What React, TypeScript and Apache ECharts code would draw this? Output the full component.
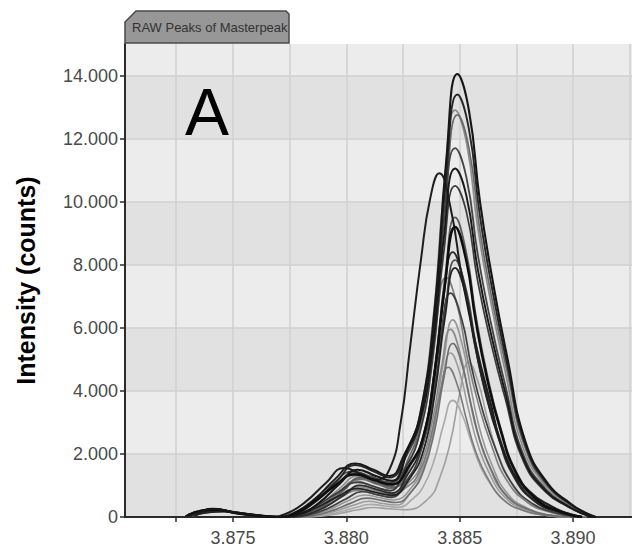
import React, { useEffect, useRef } from "react";
import * as echarts from "echarts";

// ---- axis values ----
const xMin = 3.87024;
const xMax = 3.8926;
const yMax = 15000;
const xGridValues = [3.8725, 3.875, 3.8775, 3.88, 3.8825, 3.885, 3.8875, 3.89, 3.8925];
const xTickValues = [3.8725, 3.875, 3.88, 3.885, 3.89];
const xLabelValues = [3.875, 3.88, 3.885, 3.89];
const yTickValues = [0, 2000, 4000, 6000, 8000, 10000, 12000, 14000];

const chartTitle = "RAW Peaks of Masterpeak";
const panelLetter = "A";
const yAxisName = "Intensity (counts)";

// ---- traces: [m/z, intensity] ----
const trace01 = [[3.8730,30],[3.8736,180],[3.8742,250],[3.8750,150],[3.8758,80],[3.8766,20],[3.8772,0],[3.8780,120],[3.8788,450],[3.8797,1050],[3.8805,1500],[3.8813,1300],[3.8820,1150],[3.8827,2110],[3.8833,3410],[3.8839,6620],[3.8844,11240],[3.8849,14050],[3.8854,12930],[3.8859,9980],[3.8865,7310],[3.8871,5060],[3.8879,2390],[3.8889,1050],[3.8899,420],[3.8905,150],[3.8910,0]];
const trace02 = [[3.8731,50],[3.8737,200],[3.8743,230],[3.8751,140],[3.8759,60],[3.8767,10],[3.8773,0],[3.8779,150],[3.8787,520],[3.8796,1150],[3.8804,1650],[3.8812,1450],[3.8819,1250],[3.8827,2180],[3.8833,3340],[3.8839,6360],[3.8844,10720],[3.8849,13400],[3.8854,12330],[3.8859,9510],[3.8865,6970],[3.8871,4820],[3.8879,2280],[3.8889,1000],[3.8899,400],[3.8905,140],[3.8910,0]];
const trace03 = [[3.8774,0],[3.8781,100],[3.8789,420],[3.8797,900],[3.8805,1300],[3.8813,1120],[3.8819,980],[3.8826,1880],[3.8832,3100],[3.8838,6070],[3.8843,10320],[3.8848,12900],[3.8853,11870],[3.8858,9160],[3.8864,6710],[3.8870,4640],[3.8878,2190],[3.8888,970],[3.8898,390],[3.8904,130],[3.8909,0]];
const trace04 = [[3.8775,0],[3.8782,90],[3.8790,400],[3.8798,850],[3.8806,1200],[3.8814,1030],[3.8820,900],[3.8827,1790],[3.8833,3030],[3.8839,5980],[3.8844,10200],[3.8849,12750],[3.8854,11730],[3.8859,9050],[3.8865,6630],[3.8871,4590],[3.8879,2170],[3.8889,960],[3.8899,380],[3.8905,130],[3.8910,0]];
const trace05 = [[3.8732,40],[3.8738,160],[3.8745,200],[3.8753,110],[3.8761,50],[3.8768,0],[3.8778,110],[3.8786,460],[3.8795,980],[3.8804,1400],[3.8812,1220],[3.8819,1060],[3.8826,1870],[3.8832,2900],[3.8838,5550],[3.8843,9360],[3.8848,11700],[3.8853,10760],[3.8858,8310],[3.8864,6080],[3.8870,4210],[3.8878,1990],[3.8888,880],[3.8898,350],[3.8904,120],[3.8909,0]];
const trace06 = [[3.8729,30],[3.8735,170],[3.8741,260],[3.8749,180],[3.8757,90],[3.8765,25],[3.8771,0],[3.8778,160],[3.8786,560],[3.8795,1200],[3.8804,1700],[3.8812,1500],[3.8819,1300],[3.8826,2050],[3.8832,2890],[3.8838,5310],[3.8843,8840],[3.8848,11050],[3.8853,10170],[3.8858,7850],[3.8864,5750],[3.8870,3980],[3.8878,1880],[3.8888,830],[3.8898,330],[3.8904,110],[3.8909,0]];
const trace07 = [[3.8730,60],[3.8736,210],[3.8742,240],[3.8750,140],[3.8758,60],[3.8766,0],[3.8774,120],[3.8782,480],[3.8791,1080],[3.8799,1550],[3.8807,1350],[3.8813,1180],[3.8819,1500],[3.8824,3000],[3.8828,5300],[3.8833,8200],[3.8837,10100],[3.8841,10900],[3.8846,9800],[3.8851,7600],[3.8857,5500],[3.8863,3800],[3.8871,1800],[3.8881,800],[3.8891,320],[3.8898,110],[3.8904,0]];
const trace08 = [[3.8731,40],[3.8737,140],[3.8744,190],[3.8752,100],[3.8760,40],[3.8767,0],[3.8779,80],[3.8787,360],[3.8796,770],[3.8805,1100],[3.8813,950],[3.8819,830],[3.8826,1560],[3.8832,2540],[3.8838,4950],[3.8843,8400],[3.8848,10500],[3.8853,9660],[3.8858,7460],[3.8864,5460],[3.8870,3780],[3.8878,1790],[3.8888,790],[3.8898,320],[3.8904,110],[3.8909,0]];
const trace09 = [[3.8776,0],[3.8783,100],[3.8791,400],[3.8799,850],[3.8806,1250],[3.8814,1070],[3.8821,950],[3.8828,1600],[3.8834,2590],[3.8839,4720],[3.88435,7600],[3.8848,9500],[3.8853,8360],[3.8857,6460],[3.8862,4560],[3.8868,2850],[3.8875,1430],[3.8884,570],[3.8894,190],[3.8904,0]];
const trace10 = [[3.8730,50],[3.8736,190],[3.8742,230],[3.8750,150],[3.8758,70],[3.8766,15],[3.8771,0],[3.8778,130],[3.8786,500],[3.8795,1000],[3.8804,1350],[3.8812,1180],[3.8820,1030],[3.8828,1660],[3.8834,2560],[3.8839,4590],[3.88435,7360],[3.8848,9200],[3.8853,8100],[3.8857,6260],[3.8862,4420],[3.8868,2760],[3.8875,1380],[3.8884,550],[3.8894,180],[3.8904,0]];
const trace11 = [[3.8776,0],[3.8783,80],[3.8791,330],[3.8799,700],[3.8806,1000],[3.8814,860],[3.8820,760],[3.8827,1340],[3.8833,2250],[3.8838,4150],[3.88425,6720],[3.8847,8400],[3.8852,7390],[3.8856,5710],[3.8861,4030],[3.8867,2520],[3.8874,1260],[3.8883,500],[3.8893,170],[3.8903,0]];
const trace12 = [[3.8732,30],[3.8738,130],[3.8745,180],[3.8753,100],[3.8761,40],[3.8768,0],[3.8777,140],[3.8785,520],[3.8794,1050],[3.8803,1450],[3.8811,1280],[3.8819,1100],[3.8828,1660],[3.8834,2370],[3.8839,4120],[3.88435,6520],[3.8848,8150],[3.8853,7170],[3.8857,5540],[3.8862,3910],[3.8868,2450],[3.8875,1220],[3.8884,490],[3.8894,160],[3.8904,0]];
const trace13 = [[3.8733,40],[3.8739,150],[3.8746,170],[3.8754,90],[3.8762,30],[3.8769,0],[3.8779,70],[3.8787,300],[3.8796,640],[3.8805,900],[3.8813,780],[3.8820,690],[3.8828,1230],[3.8834,2100],[3.8839,3890],[3.88435,6320],[3.8848,7900],[3.8853,6950],[3.8857,5370],[3.8862,3790],[3.8868,2370],[3.8875,1190],[3.8884,470],[3.8894,160],[3.8904,0]];
const trace14 = [[3.8774,0],[3.8781,90],[3.8789,380],[3.8797,800],[3.8804,1150],[3.8811,990],[3.8817,870],[3.8824,1400],[3.8830,2130],[3.8835,3800],[3.88395,6080],[3.8844,7600],[3.8849,6690],[3.8853,5170],[3.8858,3650],[3.8864,2280],[3.8871,1140],[3.8880,460],[3.8890,150],[3.8900,0]];
const trace15 = [[3.8777,0],[3.8784,70],[3.8792,280],[3.8800,580],[3.8807,800],[3.8814,700],[3.8820,620],[3.8826,1100],[3.8832,1880],[3.8837,3500],[3.88415,5680],[3.8846,7100],[3.8851,6250],[3.8855,4830],[3.8860,3410],[3.8866,2130],[3.8873,1070],[3.8882,430],[3.8892,140],[3.8902,0]];
const trace16 = [[3.8778,0],[3.8785,60],[3.8793,250],[3.8801,520],[3.8808,700],[3.8815,610],[3.8821,540],[3.8829,960],[3.8834,1660],[3.8839,3140],[3.8843,5000],[3.8847,6250],[3.8851,5500],[3.8855,4060],[3.8859,2750],[3.8864,1690],[3.8871,750],[3.8880,280],[3.8890,60],[3.8899,0]];
const trace17 = [[3.8776,0],[3.8783,80],[3.8791,340],[3.8799,700],[3.8806,950],[3.8813,830],[3.8819,730],[3.8828,1130],[3.8833,1690],[3.8838,3050],[3.8842,4760],[3.8846,5950],[3.8850,5240],[3.8854,3870],[3.8858,2620],[3.8863,1610],[3.8870,710],[3.8879,270],[3.8889,60],[3.8898,0]];
const trace18 = [[3.8779,0],[3.8786,50],[3.8794,210],[3.8802,440],[3.8809,600],[3.8816,520],[3.8822,460],[3.8829,835],[3.8834,1450],[3.8839,2760],[3.8843,4400],[3.8847,5500],[3.8851,4840],[3.8855,3580],[3.8859,2420],[3.8864,1490],[3.8871,660],[3.8880,250],[3.8890,55],[3.8899,0]];
const trace19 = [[3.8780,0],[3.8787,40],[3.8795,180],[3.8803,370],[3.8810,500],[3.8816,430],[3.8822,380],[3.8828,740],[3.8833,1340],[3.8838,2600],[3.8842,4160],[3.8846,5200],[3.8850,4580],[3.8854,3380],[3.8858,2290],[3.8863,1400],[3.8870,620],[3.8879,230],[3.8889,50],[3.8898,0]];
const trace20 = [[3.8775,0],[3.8782,70],[3.8790,310],[3.8798,640],[3.8805,850],[3.8812,740],[3.8818,650],[3.8827,970],[3.8832,1390],[3.8837,2450],[3.8841,3800],[3.8845,4750],[3.8849,4180],[3.8853,3090],[3.8857,2090],[3.8862,1280],[3.8869,570],[3.8878,210],[3.8888,50],[3.8897,0]];
const trace21 = [[3.8781,0],[3.8788,30],[3.8796,140],[3.8804,300],[3.8811,400],[3.8817,350],[3.8823,310],[3.8829,560],[3.8834,970],[3.8839,1860],[3.8843,2960],[3.8847,3700],[3.8851,3260],[3.8855,2410],[3.8859,1630],[3.8864,1000],[3.8871,440],[3.8880,170],[3.8890,40],[3.8899,0]];
const trace22 = [[3.8782,0],[3.8789,30],[3.8797,110],[3.8805,230],[3.8812,300],[3.8819,260],[3.8826,230],[3.8836,570],[3.8841,1200],[3.8846,2410],[3.8850,3920],[3.8854,4900],[3.8858,4310],[3.8862,3190],[3.8866,2160],[3.8871,1320],[3.8878,590],[3.8887,220],[3.8897,50],[3.8906,0]];

const traces = [
  trace22, trace21, trace19, trace16, trace03, trace17, trace14, trace20, trace18, trace04,
  trace09, trace15, trace12, trace05, trace08, trace11, trace13, trace02, trace07, trace06,
  trace10, trace01,
];
// styling for each trace (grey level, width) in the same order
const traceColors = [
  "#a0a0a0", "#a8a8a8", "#9c9c9c", "#969696", "#8e8e8e", "#8a8a8a", "#7e7e7e", "#7a7a7a", "#6e6e6e", "#6a6a6a",
  "#5a5a5a", "#404040", "#4a4a4a", "#454545", "#3a3a3a", "#2c2c2c", "#222222", "#262626", "#1e1e1e", "#181818",
  "#0e0e0e", "#161616",
];
const traceWidths = [
  1.6, 1.6, 1.6, 1.6, 1.7, 1.6, 1.6, 1.6, 1.6, 1.7,
  1.7, 1.7, 1.7, 1.8, 1.7, 1.8, 1.8, 1.9, 2.0, 1.9,
  2.5, 2.1,
];

const FONT = '"Liberation Sans", Arial, Helvetica, sans-serif';

export default function App() {
  const ref = useRef<HTMLDivElement>(null);

  useEffect(() => {
    if (!ref.current) return;
    const chart = echarts.init(ref.current, null, { renderer: "svg" });

    const series = traces.map((t, i) => ({
      type: "line",
      xAxisIndex: 0,
      yAxisIndex: 0,
      data: t,
      showSymbol: false,
      smooth: 0.5,
      clip: true,
      lineStyle: { color: traceColors[i], width: traceWidths[i] },
      z: 3,
    }));

    chart.setOption({
      animation: false,
      backgroundColor: "#ffffff",
      grid: {
        left: 125,
        right: 0,
        top: 44,
        bottom: 31,
        show: true,
        backgroundColor: "#ececec",
        borderWidth: 0,
        containLabel: false,
      },
      xAxis: [
        {
          type: "value",
          min: xMin,
          max: xMax,
          position: "bottom",
          axisLine: { show: true, onZero: false, lineStyle: { color: "#2b2b2b", width: 2 } },
          axisTick: { show: false, customValues: xGridValues },
          axisLabel: { show: false },
          splitLine: { show: true, lineStyle: { color: "#d0d0d0", width: 1.5 } },
        },
        {
          type: "value",
          min: xMin,
          max: xMax,
          position: "bottom",
          axisLine: { show: false },
          axisTick: { show: true, customValues: xTickValues, length: 5, lineStyle: { color: "#2b2b2b", width: 1.5 } },
          axisLabel: {
            show: true,
            customValues: xLabelValues,
            formatter: (v: number) => v.toFixed(3),
            fontSize: 18,
            fontFamily: FONT,
            color: "#4a4a4a",
            margin: 12,
          },
          splitLine: { show: false },
        },
      ],
      yAxis: {
        type: "value",
        min: 0,
        max: yMax,
        name: yAxisName,
        nameLocation: "middle",
        nameGap: 87,
        nameTextStyle: { fontSize: 25, fontWeight: "bold", fontFamily: FONT, color: "#000" },
        axisLine: { show: true, lineStyle: { color: "#2b2b2b", width: 2 } },
        axisTick: { show: true, customValues: yTickValues, length: 5, lineStyle: { color: "#2b2b2b", width: 1.5 } },
        axisLabel: {
          customValues: yTickValues,
          formatter: (v: number) => (v === 0 ? "0" : (v / 1000).toFixed(3)),
          fontSize: 18,
          fontFamily: FONT,
          color: "#4a4a4a",
          margin: 7,
        },
        splitLine: { show: true, lineStyle: { color: "#d0d0d0", width: 1.5 } },
        splitArea: { show: true, areaStyle: { color: ["#e1e1e1", "#ececec"] } },
      },
      graphic: [
        {
          type: "polygon",
          shape: { points: [[125, 43], [125, 22], [136, 11], [286, 11], [289, 14], [289, 43]] },
          style: { fill: "#979797", stroke: "#4a4a4a", lineWidth: 1.5 },
          z: 10,
        },
        {
          type: "text",
          x: 132,
          y: 27,
          style: {
            text: chartTitle,
            fill: "#333333",
            fontSize: 13,
            fontFamily: FONT,
            align: "left",
            verticalAlign: "middle",
          },
          z: 11,
        },
        {
          type: "text",
          x: 185,
          y: 112,
          style: {
            text: panelLetter,
            fill: "#000000",
            fontSize: 66,
            fontFamily: FONT,
            align: "left",
            verticalAlign: "middle",
          },
          z: 11,
        },
      ],
      series,
    });

    return () => {
      chart.dispose();
    };
  }, []);

  return (
    <div
      ref={ref}
      style={{ position: "fixed", left: 0, top: 0, width: 632, height: 548 }}
    />
  );
}
